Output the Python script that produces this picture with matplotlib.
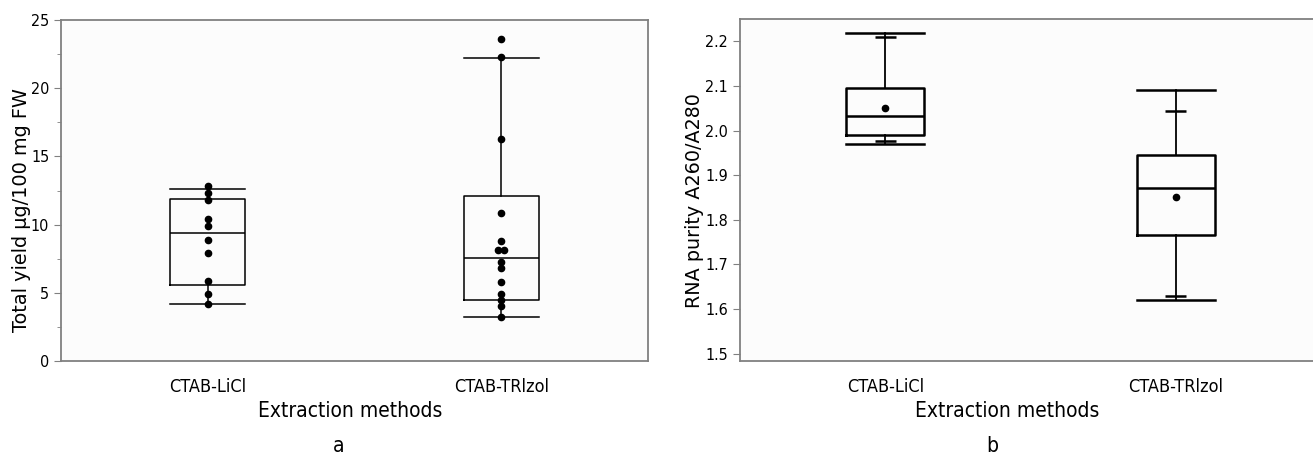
import numpy as np
import matplotlib
matplotlib.use("Agg")
from matplotlib import pyplot as plt
from matplotlib.ticker import MultipleLocator, FormatStrFormatter

methods = ['CTAB-LiCl', 'CTAB-TRlzol']

# panel a: individual yields (ug/100 mg FW)
yield_licl = [12.84, 12.35, 11.84, 10.42, 9.93, 8.86, 7.93, 5.85, 4.92, 4.21]
yield_trizol = [23.63, 22.31, 16.27, 10.84, 8.83, 8.12, 8.12, 7.26, 6.83,
                5.80, 4.92, 4.45, 4.01, 3.20]
# box stats: low whisker, q1, median, q3, high whisker
yield_box_licl = [4.21, 5.60, 9.37, 11.89, 12.60]
yield_box_trizol = [3.20, 4.50, 7.58, 12.13, 22.24]

# panel b: purity A260/A280
# low cap, inner low cap, q1, median, q3, inner high cap, high cap, mean
purity_licl = [1.970, 1.977, 1.990, 2.032, 2.095, 2.210, 2.220, 2.050]
purity_trizol = [1.620, 1.629, 1.765, 1.872, 1.946, 2.044, 2.091, 1.852]

narrow = ['DejaVu Sans']
wide = ['DejaVu Sans']
spine_col = '#808080'
txt = dict(family=narrow, stretch='condensed')


def style_axes(ax):
    ax.set_facecolor('#fcfcfc')
    for s in ax.spines.values():
        s.set_color(spine_col)
        s.set_linewidth(1.3)
    ax.tick_params(axis='y', which='both', direction='out', color=spine_col,
                   labelsize=11.5)
    ax.tick_params(axis='y', which='major', length=5)
    ax.tick_params(axis='y', which='minor', length=3)
    ax.tick_params(axis='x', length=0, labelsize=13, pad=12)
    for lab in ax.get_xticklabels() + ax.get_yticklabels():
        lab.set_family(narrow)
        lab.set_stretch('condensed')


fig = plt.figure(figsize=(13.13, 4.57), dpi=100)

# ---- panel a ----
ax1 = fig.add_axes([0.0465, 0.210, 0.447, 0.746])
stats = []
for nm, b in zip(methods, [yield_box_licl, yield_box_trizol]):
    stats.append({'label': nm, 'whislo': b[0], 'q1': b[1], 'med': b[2],
                  'q3': b[3], 'whishi': b[4], 'fliers': []})
lw = 1.1
ax1.bxp(stats, positions=[1, 2], widths=0.257, showfliers=False,
        boxprops=dict(color='black', linewidth=lw),
        medianprops=dict(color='black', linewidth=lw),
        whiskerprops=dict(color='black', linewidth=lw),
        capprops=dict(color='black', linewidth=lw), capwidths=0.257)

for pos, vals in zip([1, 2], [yield_licl, yield_trizol]):
    vals = np.array(vals)
    xs = np.full(len(vals), float(pos))
    # spread equal values side by side like a dot plot
    for v in np.unique(vals):
        idx = np.where(vals == v)[0]
        if len(idx) > 1:
            xs[idx] = pos + (np.arange(len(idx)) - (len(idx) - 1) / 2) * 0.02
    ax1.plot(xs, vals, 'o', color='black', markersize=4.5, zorder=5)

ax1.set_xlim(0.5, 2.5)
ax1.set_ylim(0, 25)
ax1.yaxis.set_major_locator(MultipleLocator(5))
ax1.yaxis.set_minor_locator(MultipleLocator(2.5))
ax1.set_xticks([1, 2])
ax1.set_xticklabels(methods)
style_axes(ax1)
ax1.set_ylabel('Total yield µg/100 mg FW', fontsize=13.9, family=wide)
ax1.yaxis.set_label_coords(-0.051, 0.443)
ax1.set_xlabel('Extraction methods', fontsize=15, **txt)
ax1.xaxis.set_label_coords(0.492, -0.117)

# ---- panel b ----
ax2 = fig.add_axes([0.5636, 0.210, 0.4425, 0.748])
stats2 = []
for nm, p in zip(methods, [purity_licl, purity_trizol]):
    stats2.append({'label': nm, 'whislo': p[0], 'q1': p[2], 'med': p[3],
                   'q3': p[4], 'whishi': p[6], 'mean': p[7], 'fliers': []})
lw2 = 1.8
ax2.bxp(stats2, positions=[1, 2], widths=0.268, showfliers=False,
        showmeans=True,
        meanprops=dict(marker='o', markerfacecolor='black',
                       markeredgecolor='black', markersize=4.5),
        boxprops=dict(color='black', linewidth=lw2),
        medianprops=dict(color='black', linewidth=lw2),
        whiskerprops=dict(color='black', linewidth=1.3),
        capprops=dict(color='black', linewidth=lw2), capwidths=0.268)
for pos, p in zip([1, 2], [purity_licl, purity_trizol]):
    ax2.hlines([p[1], p[5]], pos - 0.036, pos + 0.036, color='black',
               linewidth=lw2)

ax2.set_xlim(0.5, 2.5)
ax2.set_ylim(1.4835, 2.25)
ax2.yaxis.set_major_locator(MultipleLocator(0.1))
ax2.yaxis.set_major_formatter(FormatStrFormatter('%.1f'))
ax2.set_xticks([1, 2])
ax2.set_xticklabels(methods)
style_axes(ax2)
ax2.set_ylabel('RNA purity A260/A280', fontsize=13.8, family=wide)
ax2.yaxis.set_label_coords(-0.0615, 0.47)
ax2.set_xlabel('Extraction methods', fontsize=15, **txt)
ax2.xaxis.set_label_coords(0.46, -0.117)

fig.text(339 / 1313, 1 - 446 / 457, 'a', ha='center', va='center',
         fontsize=15, **txt)
fig.text(992 / 1313, 1 - 446 / 457, 'b', ha='center', va='center',
         fontsize=15, **txt)

fig.savefig('out.png', dpi=100)
